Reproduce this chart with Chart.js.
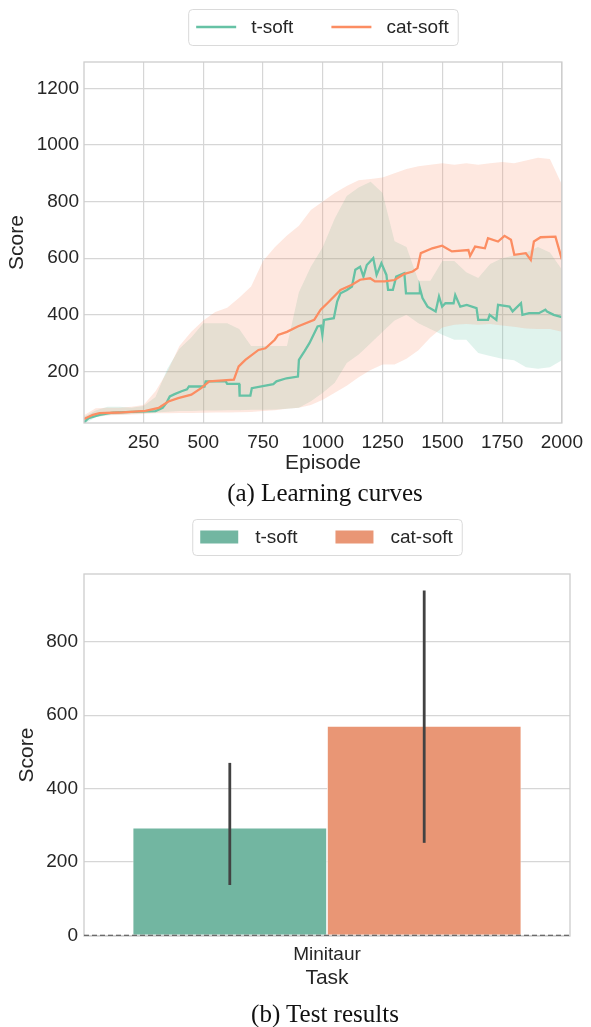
<!DOCTYPE html>
<html>
<head>
<meta charset="utf-8">
<script src="https://cdn.jsdelivr.net/npm/chart.js@4.4.0/dist/chart.umd.min.js"></script>
<style>
body{margin:0;background:#fff;width:591px;height:1027px;position:relative;overflow:hidden}
canvas{position:absolute;left:0}
.cap{position:absolute;left:0;width:650px;text-align:center;font-family:"Liberation Serif","Times New Roman",serif;font-size:25px;line-height:28px;color:#111}
</style>
</head>
<body>
<canvas id="curves" width="591" height="480" style="top:0"></canvas>
<div class="cap" style="top:479px">(a) Learning curves</div>
<canvas id="test" width="591" height="500" style="top:500px"></canvas>
<div class="cap" style="top:1000px">(b) Test results</div>
<script>
// ---- data ----
var seriesNames=['t-soft','cat-soft'];
var xTicks=[250,500,750,1000,1250,1500,1750,2000];
var yTicks=[200,400,600,800,1000,1200];

// moving-average curves (episode, score)
var tEp=[1,20,66,120,200,300,330,345,360,380,409,432,440,505,510,594,600,650,652,697,703,793,806,848,896,900,923,944,978,992,998,1005,1046,1060,1074,1101,1122,1136,1156,1170,1184,1211,1225,1245,1266,1273,1293,1307,1341,1348,1403,1406,1417,1438,1472,1486,1499,1513,1547,1554,1575,1602,1643,1650,1691,1698,1726,1733,1781,1794,1829,1835,1863,1904,1931,1938,1966,2000];
var tMean=[20,35,47,55,57,60,72,88,112,120,130,137,147,147,165,165,156,156,115,115,141,155,165,176,182,241,271,300,359,362,329,382,388,447,476,488,500,559,570,535,576,600,541,582,541,488,488,535,547,476,476,494,459,429,412,465,429,441,441,470,429,435,424,382,382,400,382,435,429,412,441,400,406,406,418,412,400,392];
var cEp=[1,38,66,148,258,313,354,395,450,491,525,628,648,676,731,760,799,813,850,895,964,991,1019,1074,1122,1156,1198,1218,1259,1300,1342,1376,1396,1410,1458,1499,1540,1609,1616,1637,1678,1691,1733,1760,1787,1801,1849,1870,1883,1911,1973,2000];
var cMean=[32,47,53,55,61,71,94,106,118,141,165,171,218,241,276,282,312,329,340,359,382,418,441,488,506,524,529,518,518,523,545,553,565,618,635,644,624,629,608,641,635,671,659,679,665,612,618,594,659,674,676,596];

// spread bands, every 50 episodes
var bandEp=[1,50,100,150,200,250,300,350,400,450,500,550,600,650,700,750,800,850,900,950,1000,1050,1100,1150,1200,1250,1300,1350,1400,1450,1500,1550,1600,1650,1700,1750,1800,1850,1900,1950,2000];
var tUpper=[40,62,75,75,72,78,110,210,280,320,370,370,370,350,290,290,290,290,480,570,640,740,820,850,870,830,660,640,520,520,590,590,550,530,580,600,610,620,640,620,560];
var tLower=[15,38,45,48,50,52,55,58,60,60,62,62,63,63,65,65,66,68,72,95,125,160,230,260,300,340,380,400,370,350,330,312,312,265,255,245,240,215,210,215,240];
var cUpper=[45,70,72,72,75,82,130,200,290,340,380,410,425,460,500,590,640,680,715,770,800,830,855,875,880,885,900,915,925,930,935,930,935,930,935,940,935,945,955,950,860];
var cLower=[25,40,45,46,48,50,52,52,53,53,54,55,55,56,57,60,63,68,72,82,100,125,150,180,205,225,225,245,275,320,355,365,368,365,368,362,358,352,350,350,340];

// test results
var tasks=['Minitaur'];
var tTest=[293];
var cTest=[571];
var tTestCI=[[137,470]];
var cTestCI=[[252,940]];
var barTicks=[0,200,400,600,800];

// ---- styling ----
var T_LINE='#66c2a5',C_LINE='#fc8d62',
    T_BAND='rgba(102,194,165,0.2)',C_BAND='rgba(252,141,98,0.2)',
    T_BAR='#72b6a1',C_BAR='#e99675',
    ERR='#424242',GRID='#d6d6d6',EDGE='#cdcdcd',TEXT='#262626',
    SANS='"Liberation Sans", Arial, sans-serif';

Chart.defaults.font.family=SANS;
Chart.defaults.color=TEXT;

var pts=function(xs,ys){
    return xs.map(function(x,i){return {x:x,y:ys[i]};});
};
var setTicks=function(list){
    return function(axis){axis.ticks=list.map(function(v){return {value:v};});};
};

var frame={
    id:'frame',
    afterDraw:function(chart){
        var ctx=chart.ctx,a=chart.chartArea;
        ctx.save();
        ctx.strokeStyle=EDGE;ctx.lineWidth=1.3;
        ctx.strokeRect(a.left,a.top,a.right-a.left,a.bottom-a.top);
        ctx.restore();
    }
};

var boxLegend=function(colors,cy,kind){
    return {
        id:'boxLegend',
        afterDraw:function(chart){
            var ctx=chart.ctx,a=chart.chartArea;
            var hw=40,gap=15,sep=38,pad=8,h=36;
            ctx.save();
            ctx.font='19px '+SANS;
            var w=pad*2+1;
            seriesNames.forEach(function(n,i){w+=hw+gap+ctx.measureText(n).width+(i?sep:0);});
            var x0=(a.left+a.right)/2-w/2;
            ctx.fillStyle='#fff';ctx.strokeStyle='#dadada';ctx.lineWidth=1;
            ctx.beginPath();ctx.roundRect(x0+0.5,cy-h/2+0.5,w,h,4);ctx.fill();ctx.stroke();
            var x=x0+pad;
            seriesNames.forEach(function(n,i){
                if(kind==='line'){
                    ctx.strokeStyle=colors[i];ctx.lineWidth=2.6;
                    ctx.beginPath();ctx.moveTo(x,cy);ctx.lineTo(x+hw,cy);ctx.stroke();
                }else{
                    ctx.fillStyle=colors[i];ctx.fillRect(x,cy-6.5,hw-2,13);
                }
                x+=hw+gap;
                ctx.fillStyle=TEXT;ctx.textAlign='left';ctx.textBaseline='middle';
                ctx.fillText(n,x,cy+1);
                x+=ctx.measureText(n).width+sep;
            });
            ctx.restore();
        }
    };
};

// ---- (a) learning curves ----
new Chart(document.getElementById('curves'),{
    type:'line',
    data:{
        datasets:[
            {label:seriesNames[1],data:pts(cEp,cMean),borderColor:C_LINE,borderWidth:2.3,pointRadius:0,fill:false,tension:0},
            {label:seriesNames[0],data:pts(tEp,tMean),borderColor:T_LINE,borderWidth:2.3,pointRadius:0,fill:false,tension:0},
            {label:'cat-upper',data:pts(bandEp,cUpper),borderColor:'transparent',borderWidth:0,pointRadius:0,backgroundColor:C_BAND,fill:'+1'},
            {label:'cat-lower',data:pts(bandEp,cLower),borderColor:'transparent',borderWidth:0,pointRadius:0,fill:false},
            {label:'t-upper',data:pts(bandEp,tUpper),borderColor:'transparent',borderWidth:0,pointRadius:0,backgroundColor:T_BAND,fill:'+1'},
            {label:'t-lower',data:pts(bandEp,tLower),borderColor:'transparent',borderWidth:0,pointRadius:0,fill:false}
        ]
    },
    options:{
        responsive:false,animation:false,events:[],devicePixelRatio:1,
        layout:{padding:{top:62,right:21,left:0,bottom:0}},
        plugins:{legend:{display:false},tooltip:{enabled:false}},
        scales:{
            x:{type:'linear',min:1,max:2000,
               afterBuildTicks:setTicks(xTicks),
               afterFit:function(s){s.height=57;},
               grid:{color:GRID,lineWidth:1.2,drawTicks:false},border:{display:false},
               ticks:{autoSkip:false,maxRotation:0,padding:8,font:{size:19},color:TEXT,callback:function(v){return String(v);}},
               title:{display:true,text:'Episode',font:{size:21},color:TEXT,padding:{top:0,bottom:4}}},
            y:{type:'linear',min:18,max:1293,
               afterBuildTicks:setTicks(yTicks),
               afterFit:function(s){s.width=84;},
               grid:{color:GRID,lineWidth:1.2,drawTicks:false},border:{display:false},
               ticks:{padding:5,font:{size:19},color:TEXT,callback:function(v){return String(v);}},
               title:{display:true,text:'Score',font:{size:21},color:TEXT,padding:{top:5,bottom:0}}}
        }
    },
    plugins:[frame,boxLegend([T_LINE,C_LINE],27,'line')]
});

// ---- (b) test results ----
var errBars={
    id:'errBars',
    afterDraw:function(chart){
        var ctx=chart.ctx,y=chart.scales.y,a=chart.chartArea;
        ctx.save();
        ctx.strokeStyle=ERR;ctx.lineWidth=2.8;ctx.lineCap='butt';
        [tTestCI,cTestCI].forEach(function(ci,i){
            chart.getDatasetMeta(i).data.forEach(function(bar,j){
                ctx.beginPath();
                ctx.moveTo(bar.x,y.getPixelForValue(ci[j][0]));
                ctx.lineTo(bar.x,y.getPixelForValue(ci[j][1]));
                ctx.stroke();
            });
        });
        var y0=y.getPixelForValue(0);
        ctx.strokeStyle='#4a4a4a';ctx.lineWidth=1.2;ctx.setLineDash([5,3]);
        ctx.beginPath();ctx.moveTo(a.left,y0);ctx.lineTo(a.right,y0);ctx.stroke();
        ctx.restore();
    }
};

new Chart(document.getElementById('test'),{
    type:'bar',
    data:{
        labels:tasks,
        datasets:[
            {label:seriesNames[0],data:tTest,backgroundColor:T_BAR,borderColor:'#fff',borderWidth:0.8},
            {label:seriesNames[1],data:cTest,backgroundColor:C_BAR,borderColor:'#fff',borderWidth:0.8}
        ]
    },
    options:{
        responsive:false,animation:false,events:[],devicePixelRatio:1,
        layout:{padding:{top:74,right:21,left:0,bottom:0}},
        datasets:{bar:{categoryPercentage:0.8,barPercentage:1.0}},
        plugins:{legend:{display:false},tooltip:{enabled:false}},
        scales:{
            x:{afterFit:function(s){s.height=64;},
               grid:{display:false,drawTicks:false},border:{display:false},
               ticks:{padding:7,font:{size:19},color:TEXT},
               title:{display:true,text:'Task',font:{size:21},color:TEXT,padding:{top:0,bottom:9}}},
            y:{min:-2,max:985,
               afterBuildTicks:setTicks(barTicks),
               afterFit:function(s){s.width=84;},
               grid:{color:GRID,lineWidth:1.2,drawTicks:false},border:{display:false},
               ticks:{padding:6,font:{size:19},color:TEXT,callback:function(v){return String(v);}},
               title:{display:true,text:'Score',font:{size:21},color:TEXT,padding:{top:15,bottom:0}}}
        }
    },
    plugins:[frame,errBars,boxLegend([T_BAR,C_BAR],37,'patch')]
});
</script>
</body>
</html>
